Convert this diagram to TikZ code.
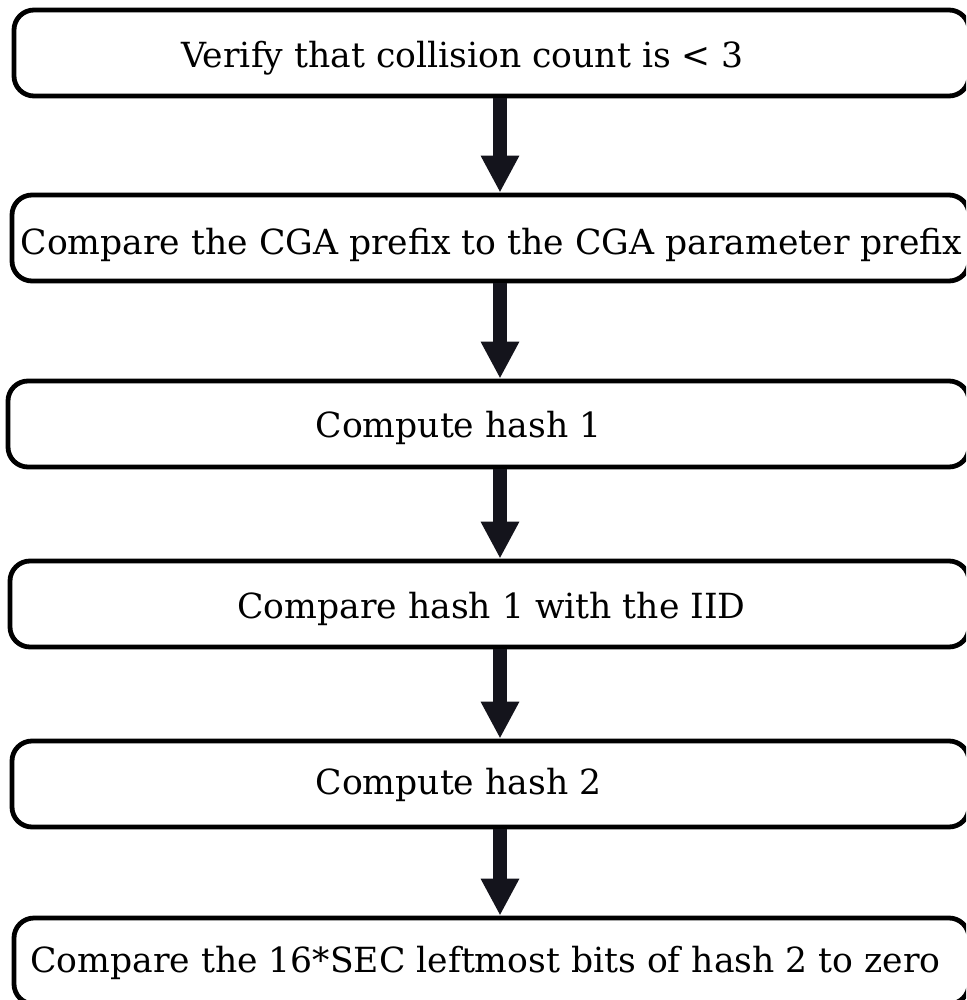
\documentclass[tikz,border=0pt]{standalone}
\usepackage{fontspec}
\setmainfont{DejaVu Serif}
\usetikzlibrary{arrows.meta}
\definecolor{arrowc}{RGB}{20,20,28}
\begin{document}
\begin{tikzpicture}[x=1pt,y=-1pt,
	stepbox/.style={draw,line width=4.8pt,rounded corners=20pt,minimum height=86pt,inner sep=0pt},
	steptext/.style={font=\fontsize{34.6}{40}\selectfont,yshift=-4pt},
	flow/.style={-{Triangle[width=36pt,length=37pt]},line width=14pt,arrowc}]

	\useasboundingbox (0,0) rectangle (966,1000);
	\clip (0,0) rectangle (966,1000);

	\coordinate (ax) at (500,0);

	\node[stepbox,minimum width=955pt,label={[steptext,xshift=-29pt,yshift=-1pt]center:Verify that collision count is < 3}] (b1) at (491.5,53) {};
	\node[stepbox,minimum width=957pt,label={[steptext,xshift=1pt,yshift=-3pt]center:Compare the CGA prefix to the CGA parameter prefix}] (b2) at (490.5,238) {};
	\node[stepbox,minimum width=961pt,label={[steptext,xshift=-30pt]center:Compute hash 1}] (b3) at (488.5,424) {};
	\node[stepbox,minimum width=959pt,label={[steptext,xshift=2pt,yshift=-1pt]center:Compare hash 1 with the IID}] (b4) at (489.5,604) {};
	\node[stepbox,minimum width=957pt,label={[steptext,xshift=-32pt,yshift=3pt]center:Compute hash 2}] (b5) at (490.5,784) {};
	\node[stepbox,minimum width=955pt,label={[steptext,xshift=-6pt,yshift=2pt]center:Compare the 16*SEC leftmost bits of hash 2 to zero}] (b6) at (491.5,961) {};

	\draw[flow] (b1.south -| ax) -- (b2.north -| ax);
	\draw[flow] (b2.south -| ax) -- (b3.north -| ax);
	\draw[flow] (b3.south -| ax) -- (b4.north -| ax);
	\draw[flow] (b4.south -| ax) -- (b5.north -| ax);
	\draw[flow] (b5.south -| ax) -- (b6.north -| ax);
\end{tikzpicture}
\end{document}
